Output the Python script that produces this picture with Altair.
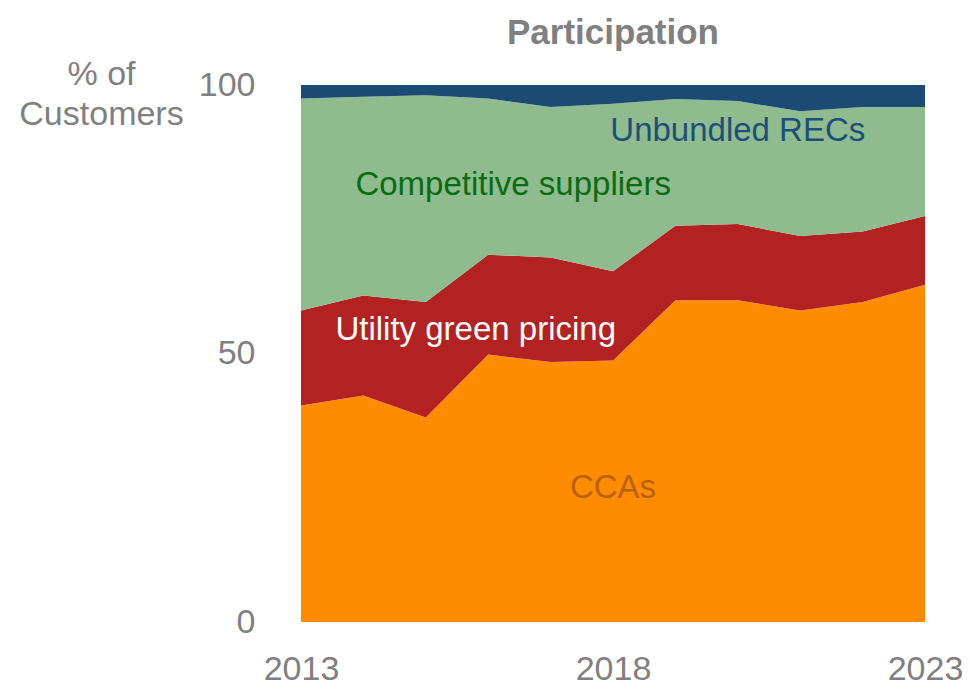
import altair as alt
import pandas as pd

years = list(range(2013, 2024))
ccas = [40.3, 42.2, 38.1, 49.8, 48.4, 48.7, 59.9, 59.9, 58.0, 59.6, 62.8]
utility = [17.7, 18.6, 21.5, 18.6, 19.5, 16.6, 13.9, 14.2, 13.9, 13.1, 12.8]
competitive = [39.5, 37.0, 38.5, 29.1, 28.0, 31.2, 23.6, 22.9, 23.2, 23.2, 20.3]
unbundled = [2.5, 2.2, 1.9, 2.5, 4.1, 3.5, 2.6, 3.0, 4.9, 4.1, 4.1]

series_names = ["CCAs", "Utility green pricing", "Competitive suppliers", "Unbundled RECs"]
series_vals = [ccas, utility, competitive, unbundled]
fill_colors = ["#FF8C00", "#B22222", "#8FBC8F", "#1B4A72"]
label_colors = ["#B8620F", "#FFFFFF", "#0B6B12", "#1F4E79"]

label_x = [2018.0, 2015.8, 2016.4, 2020.0]
label_y = [25.0, 54.4, 81.4, 91.4]

rows = []
for k, (name, vals) in enumerate(zip(series_names, series_vals)):
    for yr, v in zip(years, vals):
        rows.append({"year": yr, "value": v, "series": name, "order": k})
df = pd.DataFrame(rows)

labels = pd.DataFrame({
    "x": label_x, "y": label_y, "text": series_names, "color": label_colors
})

FONT = "Liberation Sans"
GRAY = "#808080"

xscale = alt.Scale(domain=[2013, 2023], nice=False, zero=False)
yscale = alt.Scale(domain=[0, 100], nice=False)

area = alt.Chart(df).mark_area(opacity=1, interpolate="linear").encode(
    x=alt.X("year:Q", scale=xscale,
            axis=alt.Axis(values=[2013, 2018, 2023], format="d", title=None,
                          labelFontSize=34, labelColor=GRAY, labelFont=FONT,
                          labelPadding=30, ticks=False, domain=False, grid=False,
                          labelFlush=False)),
    y=alt.Y("value:Q", stack="zero", scale=yscale,
            axis=alt.Axis(values=[0, 50, 100], title=["% of", "Customers"],
                          titleAngle=0, titleAlign="center", titleBaseline="top",
                          titleX=-200, titleY=-28, titleFontSize=34,
                          titleFontWeight="normal", titleColor=GRAY, titleFont=FONT,
                          titleLineHeight=40,
                          labelFontSize=34, labelColor=GRAY, labelFont=FONT,
                          labelPadding=46, ticks=False, domain=False, grid=False)),
    color=alt.Color("series:N", scale=alt.Scale(domain=series_names, range=fill_colors),
                    legend=None),
    order=alt.Order("order:Q", sort="ascending"),
)

text = alt.Chart(labels).mark_text(fontSize=33, font=FONT, align="center",
                                   baseline="middle").encode(
    x=alt.X("x:Q", scale=xscale),
    y=alt.Y("y:Q", scale=yscale),
    text="text:N",
    color=alt.Color("color:N", scale=None),
)

chart = (area + text).properties(
    width=624, height=537,
    autosize=alt.AutoSizeParams(type="none"),
    padding={"left": 293, "top": 77, "right": 37, "bottom": 65},
    title=alt.TitleParams("Participation", fontSize=35, fontWeight="bold",
                          color=GRAY, font=FONT, anchor="middle", offset=6),
).configure_view(stroke=None)

chart.save("out.html", embed_options={"renderer": "svg", "actions": False})
